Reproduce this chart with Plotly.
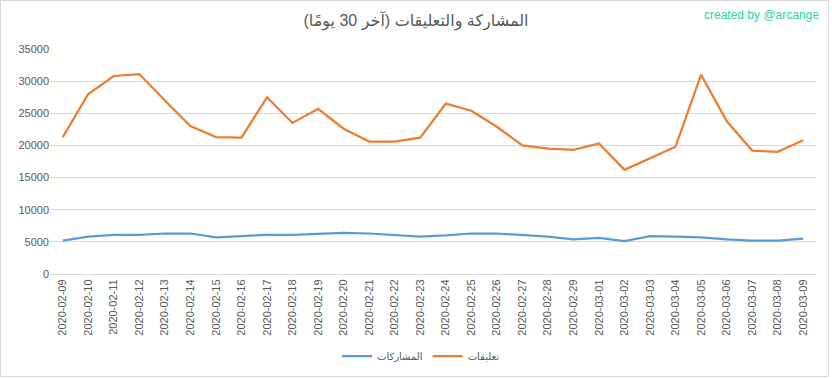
import plotly.graph_objects as go

dates = ["2020-02-09", "2020-02-10", "2020-02-11", "2020-02-12", "2020-02-13", "2020-02-14",
         "2020-02-15", "2020-02-16", "2020-02-17", "2020-02-18", "2020-02-19", "2020-02-20",
         "2020-02-21", "2020-02-22", "2020-02-23", "2020-02-24", "2020-02-25", "2020-02-26",
         "2020-02-27", "2020-02-28", "2020-02-29", "2020-03-01", "2020-03-02", "2020-03-03",
         "2020-03-04", "2020-03-05", "2020-03-06", "2020-03-07", "2020-03-08", "2020-03-09"]

posts = [5200, 5800, 6100, 6100, 6300, 6300, 5700, 5900, 6100, 6100, 6300, 6400,
         6300, 6000, 5800, 6000, 6300, 6300, 6100, 5800, 5400, 5600, 5100, 5900,
         5800, 5700, 5400, 5200, 5200, 5500]

comments = [21300, 28000, 30800, 31100, 27000, 23000, 21300, 21200, 27500, 23500, 25700, 22600,
            20600, 20600, 21200, 26500, 25400, 22900, 20000, 19500, 19300, 20300, 16200, 18000,
            19800, 31000, 23800, 19200, 19000, 20800]

series_names = ["المشاركات", "تعليقات"]
title_text = "المشاركة والتعليقات (آخر 30 يومًا)"
watermark = "created by @arcange"

font_family = "Liberation Sans, Arial, DejaVu Sans, sans-serif"
text_color = "#595959"

W, H = 832, 378
ML, MR, MT, MB = 50, 16, 49, 104
PW, PH = W - ML - MR, H - MT - MB

def px_x(x):
    return (x - ML) / PW

def px_y(y):
    return (H - MB - y) / PH

fig = go.Figure()
fig.add_trace(go.Scatter(x=dates, y=posts, name=series_names[0], mode="lines",
                         line=dict(color="#5B9BD5", width=2.25)))
fig.add_trace(go.Scatter(x=dates, y=comments, name=series_names[1], mode="lines",
                         line=dict(color="#ED7D31", width=2.25)))

fig.update_layout(
    width=W, height=H,
    margin=dict(l=ML, r=MR, t=MT, b=MB, autoexpand=False),
    paper_bgcolor="white", plot_bgcolor="white",
    font=dict(family=font_family, color=text_color, size=11),
    title=dict(text=title_text, x=0.5, xanchor="center", xref="container",
               y=1 - 20 / H, yanchor="middle", yref="container",
               font=dict(size=16, color=text_color, family=font_family)),
    showlegend=True,
    legend=dict(orientation="h", x=px_x(421), xanchor="center", y=px_y(356),
                yanchor="middle", font=dict(size=10, color=text_color), itemwidth=30),
    xaxis=dict(type="category", tickangle=-90, showgrid=False, showline=True,
               linecolor="#d9d9d9", ticks="", tickfont=dict(size=11, color=text_color),
               range=[-0.5, len(dates) - 0.5], automargin=False),
    yaxis=dict(range=[0, 35000], dtick=5000, tickformat="d", showgrid=True,
               gridcolor="#d9d9d9", gridwidth=1, zeroline=False, showline=False,
               ticks="", tickfont=dict(size=11, color=text_color), automargin=False),
    annotations=[dict(text=watermark, xref="paper", yref="paper",
                      x=px_x(821), y=px_y(15), xanchor="right", yanchor="middle",
                      showarrow=False, font=dict(size=12, color="#22D8A4", family=font_family))],
)

# outer chart border
fig.add_shape(type="rect", xref="paper", yref="paper",
              x0=px_x(0.5), x1=px_x(828.5), y0=px_y(376.5), y1=px_y(0.5),
              line=dict(color="#d9d9d9", width=1), fillcolor="rgba(0,0,0,0)", layer="below")

fig.write_html("out.html", config={"displayModeBar": False},
               post_script="document.body.style.margin='0';")
